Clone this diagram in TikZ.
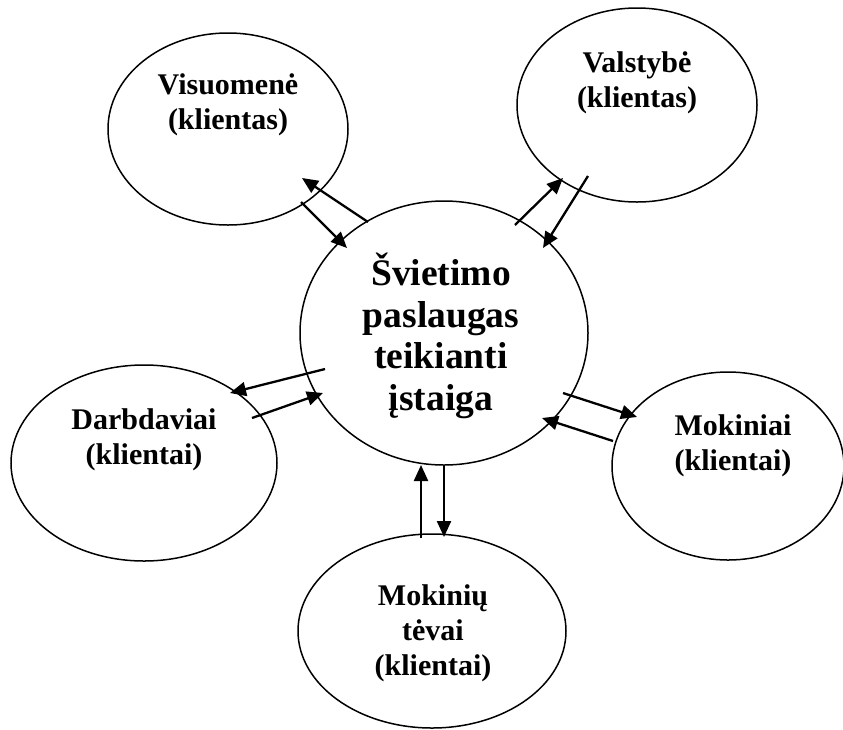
\documentclass[tikz,border=0pt]{standalone}
\usepackage{fontspec}
\setmainfont{Liberation Serif}
\usetikzlibrary{shapes.geometric,arrows.meta}
\begin{document}
\begin{tikzpicture}[x=1pt,y=-1pt,
  oval/.style={draw,ellipse,line width=1.5pt,inner sep=0pt},
  lab/.style={align=center,font=\fontsize{30}{35}\selectfont\bfseries,inner sep=0pt},
  mainlab/.style={align=center,font=\fontsize{37.5}{41.5}\selectfont\bfseries,inner sep=0pt},
  flow/.style={line width=2.3pt,-{Triangle[length=16pt,width=14pt]}}]
\useasboundingbox (0,0) rectangle (843,729);
% ellipses
\node[oval,minimum width=288pt,minimum height=264pt] (c) at (444,333) {};
\node[oval,minimum width=240pt,minimum height=192pt] (vis) at (228,129) {};
\node[oval,minimum width=240pt,minimum height=194pt] (val) at (637,105) {};
\node[oval,minimum width=266pt,minimum height=196pt] (dar) at (144,463) {};
\node[oval,minimum width=232pt,minimum height=188pt] (mok) at (728,466) {};
\node[oval,minimum width=268pt,minimum height=194pt] (tev) at (432,631) {};
% texts
\node[mainlab] (ct) at (441,336) {Švietimo\\paslaugas\\teikianti\\įstaiga};
\node[lab] (vist) at (228,105) {Visuomenė\\(klientas)};
\node[lab] (valt) at (637,83) {Valstybė\\(klientas)};
\node[lab] (dart) at (144,440) {Darbdaviai\\(klientai)};
\node[lab] (mokt) at (733,446) {Mokiniai\\(klientai)};
\node[lab] (tevt) at (433,633) {Mokinių\\tėvai\\(klientai)};
% arrow end points
\coordinate (v1s) at (368,222); \coordinate (v1e) at (302,178);
\coordinate (v2s) at (301,202); \coordinate (v2e) at (347,248);
\coordinate (s1s) at (515,225); \coordinate (s1e) at (563,178);
\coordinate (s2s) at (588,176); \coordinate (s2e) at (543,248);
\coordinate (d1s) at (325,369); \coordinate (d1e) at (230,393);
\coordinate (d2s) at (252,418); \coordinate (d2e) at (323,393);
\coordinate (m1s) at (563,393); \coordinate (m1e) at (637,417);
\coordinate (m2s) at (613,441); \coordinate (m2e) at (542,418);
\coordinate (t1s) at (421,538); \coordinate (t1e) at (421,465);
\coordinate (t2s) at (444,465); \coordinate (t2e) at (444,537);
% arrows
\draw[flow] (v1s) -- (v1e);
\draw[flow] (v2s) -- (v2e);
\draw[flow] (s1s) -- (s1e);
\draw[flow] (s2s) -- (s2e);
\draw[flow] (d1s) -- (d1e);
\draw[flow] (d2s) -- (d2e);
\draw[flow] (m1s) -- (m1e);
\draw[flow] (m2s) -- (m2e);
\draw[flow] (t1s) -- (t1e);
\draw[flow] (t2s) -- (t2e);
\end{tikzpicture}
\end{document}
